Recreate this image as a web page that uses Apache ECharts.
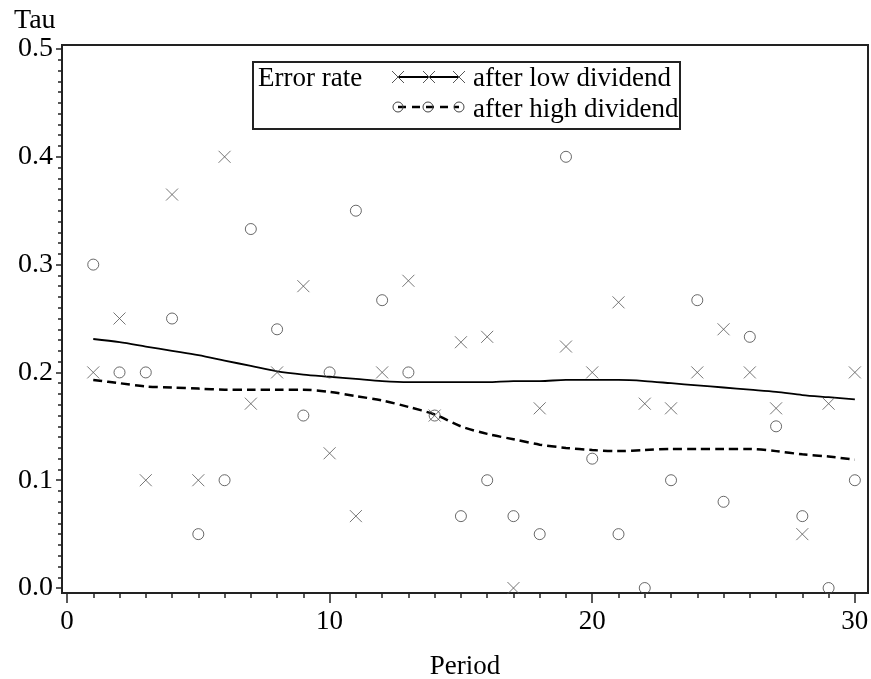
<!DOCTYPE html>
<html>
<head>
<meta charset="utf-8">
<title>Tau by period</title>
<script src="https://cdn.jsdelivr.net/npm/echarts@6/dist/echarts.min.js"></script>
<style>
  html, body { margin: 0; padding: 0; background: #fff; }
  #chart { width: 871px; height: 679px; }
</style>
</head>
<body>
<div id="chart"></div>
<script>
// observed error rates per period
const periods = [1, 2, 3, 4, 5, 6, 7, 8, 9, 10, 11, 12, 13, 14, 15,
  16, 17, 18, 19, 20, 21, 22, 23, 24, 25, 26, 27, 28, 29, 30];
const lowDividend = [0.2, 0.25, 0.1, 0.365, 0.1, 0.4, 0.171, 0.2, 0.28, 0.125, 0.0667, 0.2, 0.285, 0.16, 0.228,
  0.233, 0, 0.1667, 0.224, 0.2, 0.265, 0.171, 0.1667, 0.2, 0.24, 0.2, 0.1667, 0.05, 0.171, 0.2];
const highDividend = [0.3, 0.2, 0.2, 0.25, 0.05, 0.1, 0.333, 0.24, 0.16, 0.2, 0.35, 0.267, 0.2, 0.16, 0.0667,
  0.1, 0.0667, 0.05, 0.4, 0.12, 0.05, 0, 0.1, 0.267, 0.08, 0.233, 0.15, 0.0667, 0, 0.1];
// smoothed curves
const lowFit = [0.231, 0.228, 0.224, 0.22, 0.216, 0.211, 0.206, 0.201, 0.198, 0.196, 0.194, 0.192, 0.191, 0.191, 0.191,
  0.191, 0.192, 0.192, 0.193, 0.193, 0.193, 0.192, 0.19, 0.188, 0.186, 0.184, 0.182, 0.179, 0.177, 0.175];
const highFit = [0.193, 0.19, 0.187, 0.186, 0.185, 0.184, 0.184, 0.184, 0.184, 0.182, 0.178, 0.174, 0.168, 0.161, 0.15,
  0.143, 0.138, 0.133, 0.13, 0.128, 0.127, 0.128, 0.129, 0.129, 0.129, 0.129, 0.127, 0.124, 0.122, 0.119];

const xTicks = [0, 10, 20, 30];
const yTicks = [0, 0.1, 0.2, 0.3, 0.4, 0.5];
const xMinorTicks = Array.from({ length: 31 }, (_, i) => i);
const yMinorTicks = Array.from({ length: 51 }, (_, i) => +(i * 0.01).toFixed(2));

const FONT = "'Liberation Serif', 'Times New Roman', serif";
const xMark = 'path://M0,0L10,10M10,0L0,10';

const pair = (xs, ys) => xs.map((x, i) => [x, ys[i]]);

// legend drawn by hand (line with three markers per row)
function legendGroup() {
  const kids = [];
  kids.push({ type: 'rect', shape: { x: 253, y: 62, width: 427, height: 67 },
    style: { fill: '#fff', stroke: '#222', lineWidth: 2 } });
  kids.push({ type: 'text', style: { text: 'Error rate', x: 258, y: 79, font: '27px ' + FONT, fill: '#000', verticalAlign: 'middle' } });
  // row 1: solid + X
  kids.push({ type: 'line', shape: { x1: 398, y1: 77, x2: 459, y2: 77 }, style: { stroke: '#000', lineWidth: 1.8 } });
  [398, 429, 459].forEach(cx => {
    kids.push({ type: 'polyline', shape: { points: [[cx - 6, 71], [cx + 6, 83]] }, style: { stroke: '#555', lineWidth: 1, fill: null } });
    kids.push({ type: 'polyline', shape: { points: [[cx + 6, 71], [cx - 6, 83]] }, style: { stroke: '#555', lineWidth: 1, fill: null } });
  });
  kids.push({ type: 'text', style: { text: 'after low dividend', x: 473, y: 79, font: '27px ' + FONT, fill: '#000', verticalAlign: 'middle' } });
  // row 2: dashed + O
  kids.push({ type: 'line', shape: { x1: 398, y1: 107, x2: 459, y2: 107 }, style: { stroke: '#000', lineWidth: 2.5, lineDash: [8, 6] } });
  [398, 428, 459].forEach(cx => {
    kids.push({ type: 'circle', shape: { cx: cx, cy: 107, r: 5 }, style: { stroke: '#444', lineWidth: 1, fill: null } });
  });
  kids.push({ type: 'text', style: { text: 'after high dividend', x: 473, y: 110, font: '27px ' + FONT, fill: '#000', verticalAlign: 'middle' } });
  return { type: 'group', z: 100, children: kids };
}

const chart = echarts.init(document.getElementById('chart'));

const option = {
  animation: false,
  backgroundColor: '#fff',
  textStyle: { fontFamily: FONT },
  title: {
    text: 'Tau', left: 9, top: 2,
    textStyle: { fontFamily: FONT, fontSize: 28, fontWeight: 'normal', color: '#000' }
  },
  grid: {
    left: 62, right: 3, top: 45, bottom: 86,
    outerBoundsMode: 'none',
    show: true, borderColor: '#222', borderWidth: 2
  },
  xAxis: [
    {
      type: 'value', min: -0.19, max: 30.5, position: 'bottom',
      name: 'Period', nameLocation: 'middle', nameGap: 60,
      nameTextStyle: { fontFamily: FONT, fontSize: 27, color: '#000' },
      axisLine: { show: false, onZero: false },
      axisTick: { customValues: xTicks, length: 10, lineStyle: { color: '#222', width: 1.5 } },
      axisLabel: { customValues: xTicks, margin: 15, fontFamily: FONT, fontSize: 27, color: '#000' },
      splitLine: { show: false }
    },
    {
      type: 'value', min: -0.19, max: 30.5, position: 'bottom',
      axisLine: { show: false, onZero: false },
      axisTick: { customValues: xMinorTicks, length: 5, lineStyle: { color: '#222', width: 1.5 } },
      axisLabel: { show: false },
      splitLine: { show: false }
    }
  ],
  yAxis: [
    {
      type: 'value', min: -0.0046, max: 0.5037, position: 'left',
      axisLine: { show: false, onZero: false },
      axisTick: { customValues: yTicks, length: 6, lineStyle: { color: '#222', width: 1.5 } },
      axisLabel: {
        customValues: yTicks, margin: 9, fontFamily: FONT, fontSize: 28, color: '#000',
        formatter: v => v.toFixed(1)
      },
      splitLine: { show: false }
    },
    {
      type: 'value', min: -0.0046, max: 0.5037, position: 'left',
      axisLine: { show: false, onZero: false },
      axisTick: { customValues: yMinorTicks, length: 4, lineStyle: { color: '#222', width: 1.5 } },
      axisLabel: { show: false },
      splitLine: { show: false }
    }
  ],
  series: [
    {
      name: 'after low dividend fit', type: 'line', data: pair(periods, lowFit),
      smooth: 0.3, showSymbol: false, lineStyle: { color: '#000', width: 1.8 }, z: 3
    },
    {
      name: 'after high dividend fit', type: 'line', data: pair(periods, highFit),
      smooth: 0.3, showSymbol: false, lineStyle: { color: '#000', width: 2.5, type: [9, 5] }, z: 3
    },
    {
      name: 'after low dividend', type: 'scatter', data: pair(periods, lowDividend),
      symbol: xMark, symbolSize: 12,
      itemStyle: { color: 'transparent', borderColor: '#555', borderWidth: 1 }, z: 4
    },
    {
      name: 'after high dividend', type: 'scatter', data: pair(periods, highDividend),
      symbol: 'circle', symbolSize: 11,
      itemStyle: { color: 'transparent', borderColor: '#444', borderWidth: 1 }, z: 4
    }
  ],
  graphic: [legendGroup()]
};

chart.setOption(option);
</script>
</body>
</html>
